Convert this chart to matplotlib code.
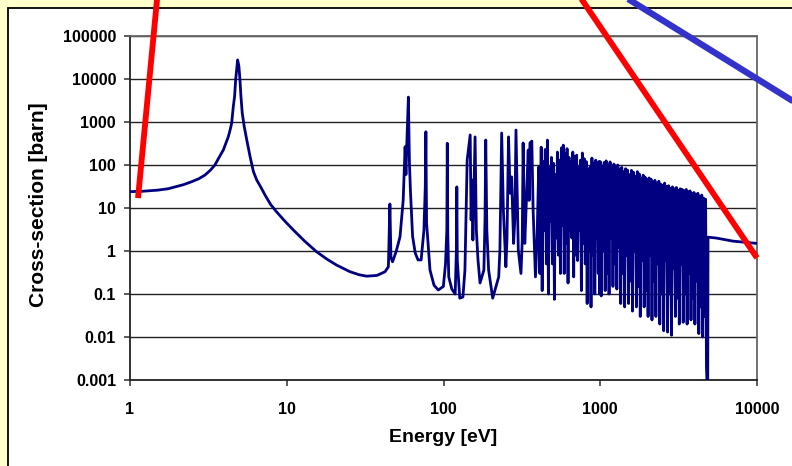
import matplotlib
matplotlib.use("Agg")
import matplotlib.pyplot as plt
from matplotlib.patches import Rectangle

plt.rcParams['font.family'] = ['Liberation Sans', 'DejaVu Sans']

# ---- data ----
smooth_E = [1.0, 1.2, 1.5, 1.75, 1.94, 2.2, 2.48, 2.75, 3.0, 3.25, 3.48, 3.7,
            3.94, 4.1, 4.24, 4.35, 4.45, 4.56, 4.65, 4.72, 4.78, 4.86, 4.95,
            5.03, 5.1, 5.2, 5.35, 5.56, 5.85, 6.13, 6.43, 6.85, 7.27, 7.9, 8.6,
            9.7, 11.0, 13.0, 15.5, 18.0, 20.8, 25.3, 29.0, 32.3, 37.6, 42.4, 44.5]
smooth_xs = [24, 24.5, 26, 28, 31, 35, 41, 48, 58, 75, 100, 150,
             224, 330, 457, 650, 930, 2270, 4000, 9500, 15000, 27800, 20000,
             9500, 4000, 1620, 800, 380, 150, 70, 45, 30, 20, 12, 8.2,
             5, 3.1, 1.7, 0.96, 0.65, 0.47, 0.33, 0.28, 0.26, 0.27, 0.33, 0.43]

res_E = [45.5, 46.2, 47.3, 50, 52.8, 55.3, 56.9, 57.6, 58.3, 59.7, 60.6, 61.5,
         63.5, 66, 68.8, 72, 75, 76.5, 77.2, 78, 82, 87, 92.6, 99.8, 103, 105,
         105.7, 106.5, 108, 113, 118.7, 120.8, 121.6, 122.5, 127, 133, 137, 140,
         141.6, 148, 150, 152, 154, 159, 162, 166, 171, 181, 184, 186, 189, 194,
         206, 225, 229, 235, 241, 250, 254, 260, 266, 272, 280, 285, 290, 300,
         312, 318, 322, 330, 338, 347, 352, 356, 366, 373, 386, 395, 405, 412]
res_xs = [12.4, 0.7, 0.56, 1.0, 2.15, 15, 266, 60, 290, 3800, 120, 26,
          2.2, 0.9, 0.62, 0.62, 3, 30, 594, 4.5, 0.36, 0.16, 0.124, 0.15, 0.5, 3,
          320, 2.5, 0.25, 0.13, 0.1, 1, 31, 0.6, 0.08, 0.085, 0.36, 15,
          131, 500, 5.3, 45, 1.8, 450, 3.1, 0.62, 0.18, 0.36, 5.3, 381, 3.1, 0.36,
          0.08, 0.25, 1.05, 555, 9, 0.43, 1.8, 450, 22, 53, 1.5, 5.3, 650, 1.05,
          0.3, 1.8, 325, 1.5, 15, 223, 15, 325, 360, 9, 0.25, 1.8, 90, 0.3]

# unresolved-looking forest: alternating peak / valley values
mid_E = [420, 426, 433, 439, 446, 453, 460, 467, 474, 481, 488, 495, 503, 510,
         518, 525, 533, 541, 549, 557, 565, 573, 581, 589, 597, 605, 614, 623,
         632, 641, 650, 659, 668, 677, 687, 697, 707, 717, 727, 737, 748, 758,
         769, 780, 791, 802, 814, 825, 837, 849, 861, 873, 885, 897, 910, 923,
         936, 949, 962, 971, 980, 990]
mid_xs = [260, 0.12, 120, 3, 230, 0.5, 380, 0.1, 90, 5, 150, 0.5, 110, 0.075,
          60, 2, 200, 0.8, 130, 0.3, 250, 4, 290, 0.3, 180, 1.5, 240, 0.18,
          150, 3, 120, 2, 200, 0.25, 160, 0.8, 170, 0.6, 90, 3, 130, 0.12,
          190, 1.5, 140, 0.5, 120, 0.06, 80, 1, 90, 0.05, 145, 0.8, 110, 0.1,
          130, 2, 105, 0.3, 120, 0.1]

dense_E = [1000, 1015, 1030, 1045, 1060, 1075, 1090, 1106, 1122, 1138, 1155, 1171,
           1188, 1205, 1222, 1240, 1258, 1276, 1295, 1313, 1332, 1351, 1371, 1391,
           1411, 1431, 1452, 1473, 1494, 1516, 1538, 1560, 1582, 1605, 1628, 1652,
           1676, 1700, 1724, 1749, 1775, 1800, 1826, 1852, 1879, 1906, 1934, 1962,
           1990, 2019, 2048, 2078, 2108, 2138, 2169, 2200, 2232, 2264, 2297, 2330,
           2364, 2398, 2432, 2467, 2503, 2539, 2576, 2613, 2651, 2689, 2728, 2767,
           2807, 2848, 2889, 2931, 2973, 3016, 3059, 3103, 3148, 3194, 3240, 3287,
           3334, 3382, 3431, 3481, 3531, 3582, 3633, 3686, 3739, 3793, 3848, 3904,
           3960, 4017, 4075, 4134, 4193, 4254, 4315, 4378, 4441, 4505, 4570, 4635,
           4700, 4760, 4800, 4850, 4870, 5500, 7000, 10000]
dense_xs = [120, 0.09, 95, 1.0, 115, 0.12, 125, 0.3, 100, 0.1, 118, 2,
            85, 0.15, 105, 0.5, 95, 0.13, 100, 1.2, 80, 0.06, 88, 0.3,
            70, 0.05, 82, 0.8, 76, 0.06, 60, 0.2, 75, 0.04, 68, 1,
            55, 0.05, 70, 0.15, 62, 0.03, 50, 0.6, 58, 0.05, 52, 0.12,
            45, 0.03, 50, 0.8, 47, 0.025, 40, 0.2, 44, 0.03, 38, 0.5,
            42, 0.02, 36, 0.1, 34, 0.014, 38, 0.6, 32, 0.013, 33, 0.1,
            29, 0.011, 31, 0.4, 28, 0.03, 30, 0.08, 26, 0.02, 28, 0.5,
            27, 0.022, 25, 0.1, 27, 0.02, 24, 0.3, 25, 0.025, 22, 0.08,
            23, 0.02, 21, 0.2, 22, 0.012, 19, 0.05, 20, 0.01, 17, 0.03,
            16, 0.002, 0.0008, 0.0008, 2.1, 2.0, 1.7, 1.5]

# overlaid straight lines (endpoints, data coordinates)
red1_E = [1.125, 1.55]
red1_xs = [17, 3.4e6]
red2_E = [569, 10000]
red2_xs = [3.4e6, 0.69]
blue_E = [760, 29200]
blue_xs = [3.4e6, 898]

x_ticks = [1, 10, 100, 1000, 10000]
x_labels = ['1', '10', '100', '1000', '10000']
y_ticks = [0.001, 0.01, 0.1, 1, 10, 100, 1000, 10000, 100000]
y_labels = ['0.001', '0.01', '0.1', '1', '10', '100', '1000', '10000', '100000']

# ---- figure ----
W, H = 792, 466
fig = plt.figure(figsize=(W / 100, H / 100), dpi=100, facecolor='#FFFFCC')
fig.patches.append(Rectangle((8 / W, -0.2), 1.5, (H - 8) / H + 0.2,
                             transform=fig.transFigure, facecolor='white',
                             edgecolor='black', lw=1.3, zorder=-5))

ax = fig.add_axes([130 / W, 86 / H, 627 / W, 344 / H])
ax.set_zorder(2)
ax.set_xscale('log')
ax.set_yscale('log')
ax.set_xlim(1, 10000)
ax.set_ylim(0.001, 100000)

E_all = smooth_E + res_E + mid_E + dense_E
xs_all = smooth_xs + res_xs + mid_xs + dense_xs
ax.plot(E_all, xs_all, color='#000080', lw=2.0, zorder=3)

ax.plot(red1_E, red1_xs, color='#FF0000', lw=4.2, clip_on=False, zorder=5,
        solid_capstyle='butt')
ax.plot(red2_E, red2_xs, color='#FF0000', lw=4.2, clip_on=False, zorder=5,
        solid_capstyle='butt')
ax.plot(blue_E, blue_xs, color='#3333CC', lw=4.6, clip_on=False, zorder=5,
        solid_capstyle='butt')

ax.set_xticks(x_ticks)
ax.set_xticklabels(x_labels)
ax.set_yticks(y_ticks)
ax.set_yticklabels(y_labels)
ax.minorticks_off()
ax.tick_params(axis='both', which='major', direction='out', length=4,
               width=1.2, color='#404040', labelsize=11.5)
ax.tick_params(axis='y', pad=6)
ax.tick_params(axis='x', pad=12)
for lab in ax.get_xticklabels() + ax.get_yticklabels():
    lab.set_fontweight('bold')

ax.grid(True, axis='y', color='#222222', lw=1.0)
ax.grid(False, axis='x')
ax.set_axisbelow(True)
for s in ['left', 'bottom']:
    ax.spines[s].set_color('#222222')
    ax.spines[s].set_linewidth(1.3)
for s in ['top', 'right']:
    ax.spines[s].set_color('#666666')
    ax.spines[s].set_linewidth(1.3)

fig.text(443 / W, 1 - 438 / H, 'Energy [eV]', ha='center', va='center',
         fontsize=14, fontweight='bold')
fig.text(39 / W, 1 - 205 / H, 'Cross-section [barn]', ha='center', va='center',
         rotation=90, fontsize=15, fontweight='bold')

fig.savefig('out.png', dpi=100, facecolor=fig.get_facecolor())
